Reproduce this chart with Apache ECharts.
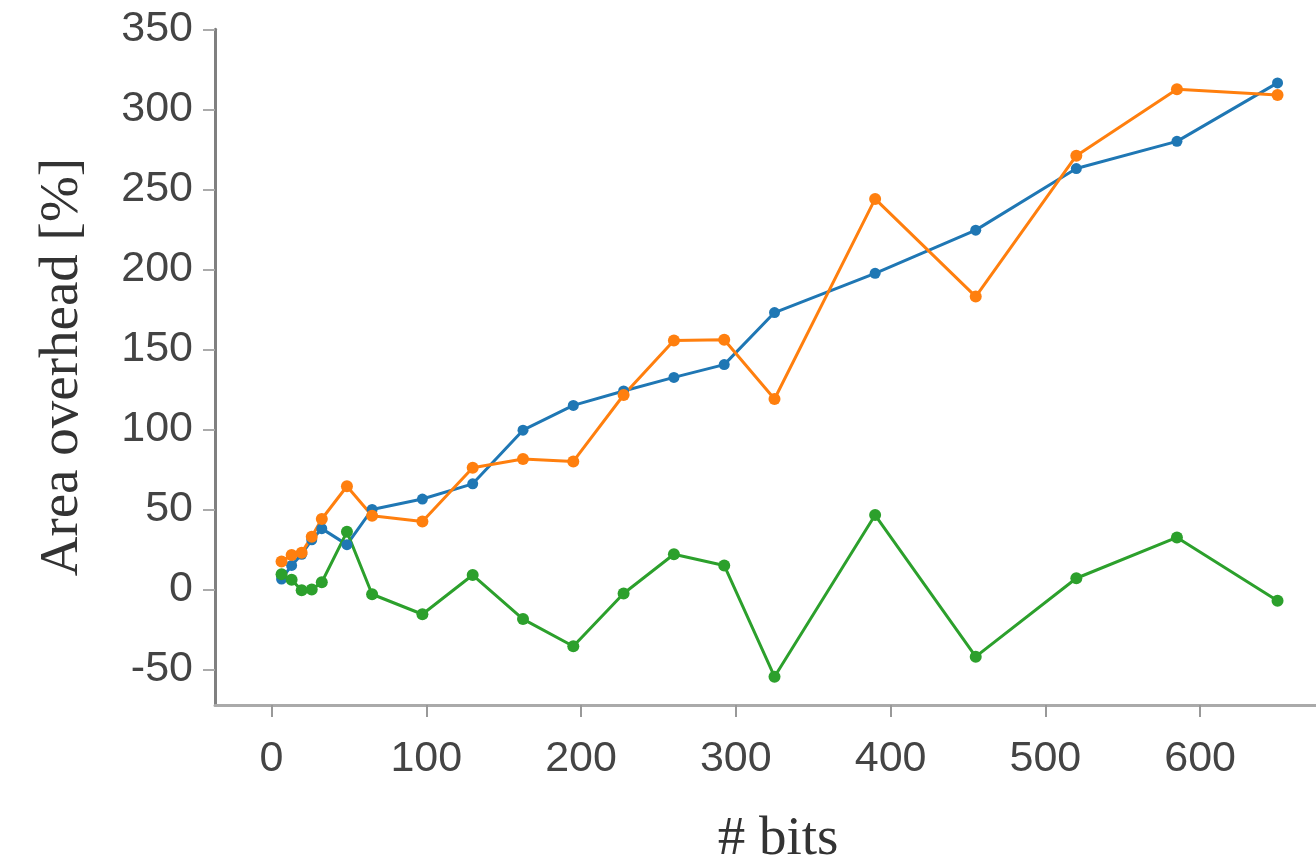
<!DOCTYPE html>
<html><head><meta charset="utf-8">
<script src="https://cdn.jsdelivr.net/npm/echarts@6/dist/echarts.min.js"></script>
<style>html,body{margin:0;padding:0;background:#fff}#c{width:1316px;height:865px}</style>
</head><body><div id="c"></div>
<script>
const bits = [6.5, 13, 19.5, 26, 32.5, 48.75, 65, 97.5, 130, 162.5, 195, 227.5, 260, 292.5, 325, 390, 455, 520, 585, 650];
const blueValues = [6.5, 15, 22, 31, 38, 28, 50, 56.5, 66, 99.5, 115, 124, 132.5, 140.5, 173, 197.5, 224.5, 263, 280, 316.5];
const orangeValues = [17.5, 21.5, 23, 33, 44, 64.5, 46, 42.5, 76, 81.5, 80, 121.5, 155.5, 156, 119, 244, 183, 271, 312.5, 309];
const greenValues = [9.5, 6, -0.5, 0, 4.5, 36, -3, -15.5, 9, -18.5, -35.5, -2.5, 22, 15, -54.5, 46.5, -42, 7, 32.5, -7];
const xTickValues = [0, 100, 200, 300, 400, 500, 600];
const yTickValues = [-50, 0, 50, 100, 150, 200, 250, 300, 350];
const xTitle = '# bits';
const yTitle = 'Area overhead [%]';

const pairs = vals => bits.map((b, i) => [b, vals[i]]);
const labelFont = { fontFamily: 'Liberation Sans', fontSize: 43, color: '#444' };
const titleFont = { fontFamily: 'Liberation Serif', fontSize: 55, color: '#333' };

const chart = echarts.init(document.getElementById('c'), null, { renderer: 'canvas' });
chart.setOption({
  animation: false,
  backgroundColor: '#fff',
  grid: { left: 215, top: 29.3, right: -25, bottom: 160, containLabel: false, outerBoundsMode: 'none' },
  xAxis: {
    type: 'value', min: -36.5, max: 691,
    name: xTitle, nameLocation: 'middle', nameGap: 107,
    nameTextStyle: titleFont,
    axisLine: { show: true, onZero: false, lineStyle: { color: '#aaa', width: 3 } },
    axisTick: { show: true, length: 12, customValues: xTickValues, lineStyle: { color: '#999', width: 2 } },
    axisLabel: { customValues: xTickValues, margin: 33, ...labelFont },
    splitLine: { show: false }
  },
  yAxis: {
    type: 'value', min: -72.2, max: 350,
    name: yTitle, nameLocation: 'middle', nameGap: 125,
    nameTextStyle: titleFont,
    axisLine: { show: true, onZero: false, lineStyle: { color: '#808080', width: 3 } },
    axisTick: { show: true, length: 12, customValues: yTickValues, lineStyle: { color: '#aaa', width: 2 } },
    axisLabel: { customValues: yTickValues, margin: 22, ...labelFont },
    splitLine: { show: false }
  },
  series: [
    { name: 'blue', type: 'line', data: pairs(blueValues), symbol: 'circle', symbolSize: 11,
      itemStyle: { color: '#1f77b4' }, lineStyle: { color: '#1f77b4', width: 3 } },
    { name: 'orange', type: 'line', data: pairs(orangeValues), symbol: 'circle', symbolSize: 12,
      itemStyle: { color: '#ff7f0e' }, lineStyle: { color: '#ff7f0e', width: 3 } },
    { name: 'green', type: 'line', data: pairs(greenValues), symbol: 'circle', symbolSize: 12,
      itemStyle: { color: '#2ca02c' }, lineStyle: { color: '#2ca02c', width: 3 } }
  ]
});
</script>
</body></html>
